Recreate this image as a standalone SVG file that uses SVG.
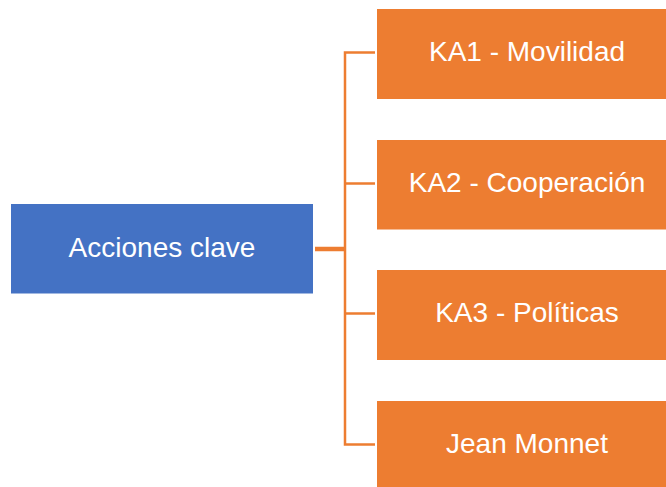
<svg xmlns="http://www.w3.org/2000/svg" width="666" height="487" viewBox="0 0 666 487">
<style>
.root{fill:#4472C4;stroke:#FFFFFF;stroke-width:1}
.leaf{fill:#ED7D31;stroke:#FFFFFF;stroke-width:1}
.t{font-family:"Liberation Sans",Arial,sans-serif;font-size:28px;fill:#FFFFFF;text-anchor:middle}
.c{fill:none;stroke:#ED7D31;stroke-linecap:butt}
</style>
<rect width="666" height="487" fill="#FFFFFF"/>
<g id="connectors">
<line class="c" x1="315" y1="249" x2="346" y2="249" stroke-width="4.5"/>
<polyline class="c" points="375,52.5 345,52.5 345,444.5 375,444.5" stroke-width="2.5"/>
<line class="c" x1="345" y1="183.5" x2="375" y2="183.5" stroke-width="2.5"/>
<line class="c" x1="345" y1="313.5" x2="375" y2="313.5" stroke-width="2.5"/>
</g>
<g id="node-acciones">
<rect class="root" x="10.5" y="203.5" width="303" height="90.5"/>
<text class="t" x="162" y="257">Acciones clave</text>
</g>
<g id="node-ka1">
<rect class="leaf" x="376.5" y="8.5" width="300" height="91"/>
<text class="t" x="527" y="61">KA1 - Movilidad</text>
</g>
<g id="node-ka2">
<rect class="leaf" x="376.5" y="139.5" width="300" height="90.5"/>
<text class="t" x="527" y="192">KA2 - Cooperación</text>
</g>
<g id="node-ka3">
<rect class="leaf" x="376.5" y="269.5" width="300" height="91"/>
<text class="t" x="527" y="322">KA3 - Políticas</text>
</g>
<g id="node-jean">
<rect class="leaf" x="376.5" y="400.5" width="300" height="91"/>
<text class="t" x="527" y="453">Jean Monnet</text>
</g>
</svg>
